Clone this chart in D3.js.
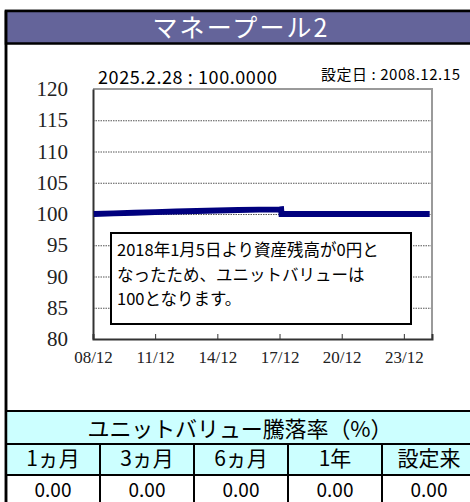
<!DOCTYPE html>
<html>
<head>
<meta charset="utf-8">
<script src="https://cdn.jsdelivr.net/npm/d3@7"></script>
<style>
  body { margin: 0; background: #fff; }
  svg { display: block; }
  .serif text { font-family: "Liberation Serif", "Times New Roman", "DejaVu Serif", serif !important; }
</style>
</head>
<body>
<svg width="470" height="502"></svg>
<script>
// unit value series (dates)
const dates = ["2008-12-15", "2009-12-01", "2010-12-01", "2011-12-01", "2012-12-01", "2013-12-01",
  "2014-12-01", "2015-12-01", "2016-12-01", "2017-12-01", "2017-12-29", "2018-01-05", "2025-02-28"];
const values = [100.00, 100.10, 100.20, 100.30, 100.40, 100.48, 100.56, 100.64, 100.70, 100.74, 100.76, 100.00, 100.00];
const yTicks = [80, 85, 90, 95, 100, 105, 110, 115, 120];
const xTicks = ["2008-12-01", "2011-12-01", "2014-12-01", "2017-12-01", "2020-12-01", "2023-12-01"];
const periods = ["1ヵ月", "3ヵ月", "6ヵ月", "1年", "設定来"];
const returns = ["0.00", "0.00", "0.00", "0.00", "0.00"];
const noteLines = ["2018年1月5日より資産残高が0円と", "なったため、ユニットバリューは", "100となります。"];

const jp = "'Noto Sans CJK JP', 'Noto Sans', sans-serif";
const parse = d3.timeParse("%Y-%m-%d");
const data = dates.map((d, i) => ({ date: parse(d), value: values[i] }));

const svg = d3.select("svg");

// outer frame + title bar
svg.append("rect").attr("x", 6).attr("y", 11).attr("width", 470).attr("height", 500)
  .attr("fill", "#fff").attr("stroke", "#000").attr("stroke-width", 2.5);
svg.append("rect").attr("x", 6).attr("y", 11).attr("width", 470).attr("height", 32.5)
  .attr("fill", "#64649a").attr("stroke", "#000").attr("stroke-width", 2.5);
svg.append("text").attr("x", 240).attr("y", 36.5).attr("text-anchor", "middle")
  .style("font-family", jp).style("font-size", "25px").attr("fill", "#fff")
  .attr("textLength", 175).text("マネープール2");

// chart
const pl = 93, pr = 432, pt = 89, pb = 339;
const x = d3.scaleTime().domain([parse("2008-12-01"), parse("2025-04-10")]).range([pl, pr]);
const y = d3.scaleLinear().domain([80, 120]).range([pb, pt]);

// gridlines
svg.append("g").attr("transform", `translate(${pl},0)`)
  .call(d3.axisLeft(y).tickValues(yTicks.filter(v => v > 80 && v < 120)).tickSize(-(pr - pl)).tickFormat(""))
  .call(g => g.select(".domain").remove())
  .call(g => g.selectAll(".tick line").attr("stroke", "#555").attr("stroke-width", 1).attr("stroke-dasharray", "1.5,1"));

// plot border (top/right grey)
svg.append("path").attr("d", `M${pl},${pt}H${pr}V${pb}`)
  .attr("fill", "none").attr("stroke", "#9a9a9a").attr("stroke-width", 2);

// y axis
svg.append("g").attr("class", "serif").attr("transform", `translate(${pl},0)`)
  .call(d3.axisLeft(y).tickValues(yTicks).tickSize(0).tickPadding(25))
  .call(g => g.attr("font-family", null).attr("font-size", 21))
  .call(g => g.select(".domain").attr("stroke", "#333").attr("stroke-width", 2))
  .call(g => g.selectAll("text").attr("fill", "#222"));

// x axis
svg.append("g").attr("class", "serif").attr("transform", `translate(0,${pb})`)
  .call(d3.axisBottom(x).tickValues(xTicks.map(parse)).tickSize(-5).tickPadding(12)
    .tickFormat(d3.timeFormat("%y/%m")))
  .call(g => g.attr("font-family", null).attr("font-size", 17))
  .call(g => g.select(".domain").attr("stroke", "#333").attr("stroke-width", 2))
  .call(g => g.selectAll(".tick line").attr("stroke", "#333"))
  .call(g => g.selectAll("text").attr("fill", "#222"));

// series line
svg.append("path").datum(data)
  .attr("fill", "none").attr("stroke", "#00007e").attr("stroke-width", 6)
  .attr("d", d3.line().x(d => x(d.date)).y(d => y(d.value)));

// note box
svg.append("rect").attr("x", 111).attr("y", 233).attr("width", 300).attr("height", 91)
  .attr("fill", "#fff").attr("stroke", "#000").attr("stroke-width", 2);
svg.append("g").selectAll("text").data(noteLines).join("text")
  .attr("x", 117).attr("y", (d, i) => 256 + i * 24.5)
  .style("font-family", jp).style("font-size", "16.5px").attr("fill", "#000").text(d => d);

// header texts
svg.append("text").attr("x", 98).attr("y", 84).style("font-family", jp).style("font-size", "18px")
  .attr("fill", "#000").attr("textLength", 179).text("2025.2.28 : 100.0000");
svg.append("text").attr("x", 321).attr("y", 80).style("font-family", jp).style("font-size", "15px")
  .attr("fill", "#000").attr("textLength", 139).text("設定日 : 2008.12.15");

// table
const tx = d3.scaleBand().domain(periods).range([6, 476]);
svg.append("rect").attr("x", 6).attr("y", 411).attr("width", 470).attr("height", 64)
  .attr("fill", "#ccffff");
svg.append("text").attr("x", 240).attr("y", 437).attr("text-anchor", "middle")
  .style("font-family", jp).style("font-size", "22px").attr("fill", "#000")
  .attr("textLength", 305).text("ユニットバリュー騰落率（%）");
[411, 444, 475].forEach(yy => svg.append("line").attr("x1", 6).attr("x2", 476)
  .attr("y1", yy).attr("y2", yy).attr("stroke", "#000").attr("stroke-width", 2));
svg.append("g").selectAll("line").data(periods.slice(1)).join("line")
  .attr("x1", d => tx(d)).attr("x2", d => tx(d)).attr("y1", 444).attr("y2", 502)
  .attr("stroke", "#000").attr("stroke-width", 2);
svg.append("g").selectAll("text").data(periods).join("text")
  .attr("x", d => tx(d) + tx.bandwidth() / 2).attr("y", 466).attr("text-anchor", "middle")
  .style("font-family", jp).style("font-size", "21px").attr("fill", "#000").text(d => d);
svg.append("g").selectAll("text").data(returns).join("text")
  .attr("x", (d, i) => tx(periods[i]) + tx.bandwidth() / 2).attr("y", 497).attr("text-anchor", "middle")
  .style("font-family", jp).style("font-size", "19px").attr("fill", "#000").text(d => d);

// left frame edge on top
svg.append("line").attr("x1", 6).attr("x2", 6).attr("y1", 11).attr("y2", 502)
  .attr("stroke", "#000").attr("stroke-width", 2.5);
</script>
</body>
</html>
